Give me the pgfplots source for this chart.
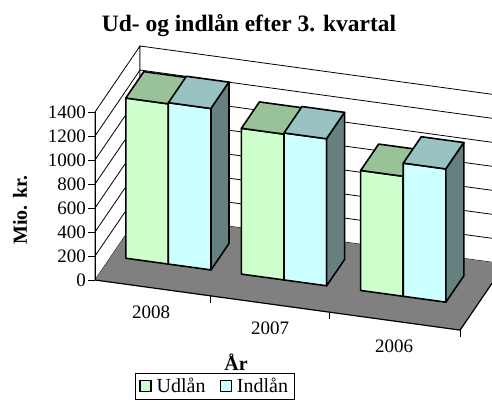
\documentclass[border=0pt]{standalone}
\usepackage{fontspec}
\setmainfont{Liberation Serif}
\usepackage{pgfplots}
\pgfplotsset{compat=1.18}
\definecolor{udfront}{HTML}{CCFFCC}
\definecolor{udtop}{HTML}{99C299}
\definecolor{udside}{HTML}{668066}
\definecolor{infront}{HTML}{CCFFFF}
\definecolor{intop}{HTML}{99C2C2}
\definecolor{inside}{HTML}{668080}
\definecolor{floorgray}{HTML}{808080}
% cuboid: x0, x1, value, front, top, side
\newcommand{\cuboid}[6]{%
  \addplot3[forget plot, fill=#4, draw=black, line width=1.6pt, line join=round]
    coordinates {(#1,0.36,0) (#2,0.36,0) (#2,0.36,#3) (#1,0.36,#3)} -- cycle;
  \addplot3[forget plot, fill=#5, draw=black, line width=1.6pt, line join=round]
    coordinates {(#1,0.36,#3) (#2,0.36,#3) (#2,0.76,#3) (#1,0.76,#3)} -- cycle;
  \addplot3[forget plot, fill=#6, draw=black, line width=1.6pt, line join=round]
    coordinates {(#2,0.36,0) (#2,0.76,0) (#2,0.76,#3) (#2,0.36,#3)} -- cycle;
}
\newcommand{\tickfont}{\fontsize{19}{21}\selectfont}
\begin{document}
\begin{tikzpicture}
\useasboundingbox (0pt,0pt) rectangle (492pt,409pt);
\clip (0pt,0pt) rectangle (492pt,409pt);
\begin{axis}[
  at={(95pt,129pt)}, anchor=origin,
  x={(121.7pt,-16.7pt)}, y={(45pt,66pt)}, z={(0pt,0.12pt)},
  xmin=0, xmax=3, ymin=0, ymax=1, zmin=0, zmax=1400,
  hide axis, clip=false,
  legend columns=2,
  legend style={at={(0.0976,-0.151)}, anchor=north west, draw=black, line width=0.8pt,
    font=\fontsize{20}{22}\selectfont, inner xsep=4pt, inner ysep=3pt,
    /tikz/column 1/.style={column sep=3pt},
    /tikz/column 2/.style={column sep=12pt},
    /tikz/column 3/.style={column sep=3pt}},
  legend image code/.code={\draw[#1, line width=1.3pt] (0pt,-5pt) rectangle (11pt,6pt);},
]
% walls
\addplot3[forget plot, fill=white, draw=black, line width=0.8pt]
  coordinates {(0,0,0) (0,1,0) (0,1,1400) (0,0,1400)} -- cycle;
\addplot3[forget plot, fill=white, draw=black, line width=0.8pt]
  coordinates {(0,1,0) (3,1,0) (3,1,1400) (0,1,1400)} -- cycle;
% gridlines
\pgfplotsinvokeforeach{200,400,600,800,1000,1200}{
  \addplot3[forget plot, black, line width=0.8pt] coordinates {(0,0,#1) (0,1,#1) (3,1,#1)};
}
% floor
\addplot3[forget plot, fill=floorgray, draw=none]
  coordinates {(0,0,0) (3,0,0) (3,1,0) (0,1,0)} -- cycle;
\addplot3[forget plot, black, line width=1.2pt] coordinates {(0,0,0) (3,0,0) (3,1,0)};
\addplot3[forget plot, black, line width=0.8pt] coordinates {(0,0,0) (0,0,1400)};
% bars
\cuboid{0.12}{0.47}{1335}{udfront}{udtop}{udside}
\cuboid{0.47}{0.82}{1345}{infront}{intop}{inside}
\cuboid{1.07}{1.42}{1215}{udfront}{udtop}{udside}
\cuboid{1.42}{1.77}{1225}{infront}{intop}{inside}
\cuboid{2.05}{2.40}{1000}{udfront}{udtop}{udside}
\cuboid{2.40}{2.75}{1110}{infront}{intop}{inside}
% z ticks
\pgfplotsinvokeforeach{0,200,400,600,800,1000,1200,1400}{
  \draw[line width=0.8pt] (axis cs:0,0,#1) -- ++(-7pt,0pt);
  \node[anchor=east, font=\tickfont, inner sep=0pt] at (axis cs:0,0,#1) [xshift=-9pt] {#1};
}
% x ticks
\pgfplotsinvokeforeach{0.95,1.93,3}{
  \draw[line width=0.8pt] (axis cs:#1,0,0) -- ++(0pt,-7pt);
}
\addlegendimage{fill=udfront, draw=black}
\addlegendentry{Udlån}
\addlegendimage{fill=infront, draw=black}
\addlegendentry{Indlån}
\end{axis}
\node[anchor=base, font=\tickfont] at (151pt,90pt) {2008};
\node[anchor=base, font=\tickfont] at (270pt,74pt) {2007};
\node[anchor=base, font=\tickfont] at (394pt,56pt) {2006};
\node[anchor=base, font=\fontsize{23.5}{26}\selectfont\bfseries] at (249pt,377pt) {Ud- og indlån efter 3. kvartal};
\node[anchor=base, rotate=90, font=\fontsize{20}{22}\selectfont\bfseries] at (27pt,199pt) {Mio. kr.};
\node[anchor=base, font=\fontsize{20}{22}\selectfont\bfseries] at (236pt,38pt) {År};
\end{tikzpicture}
\end{document}
